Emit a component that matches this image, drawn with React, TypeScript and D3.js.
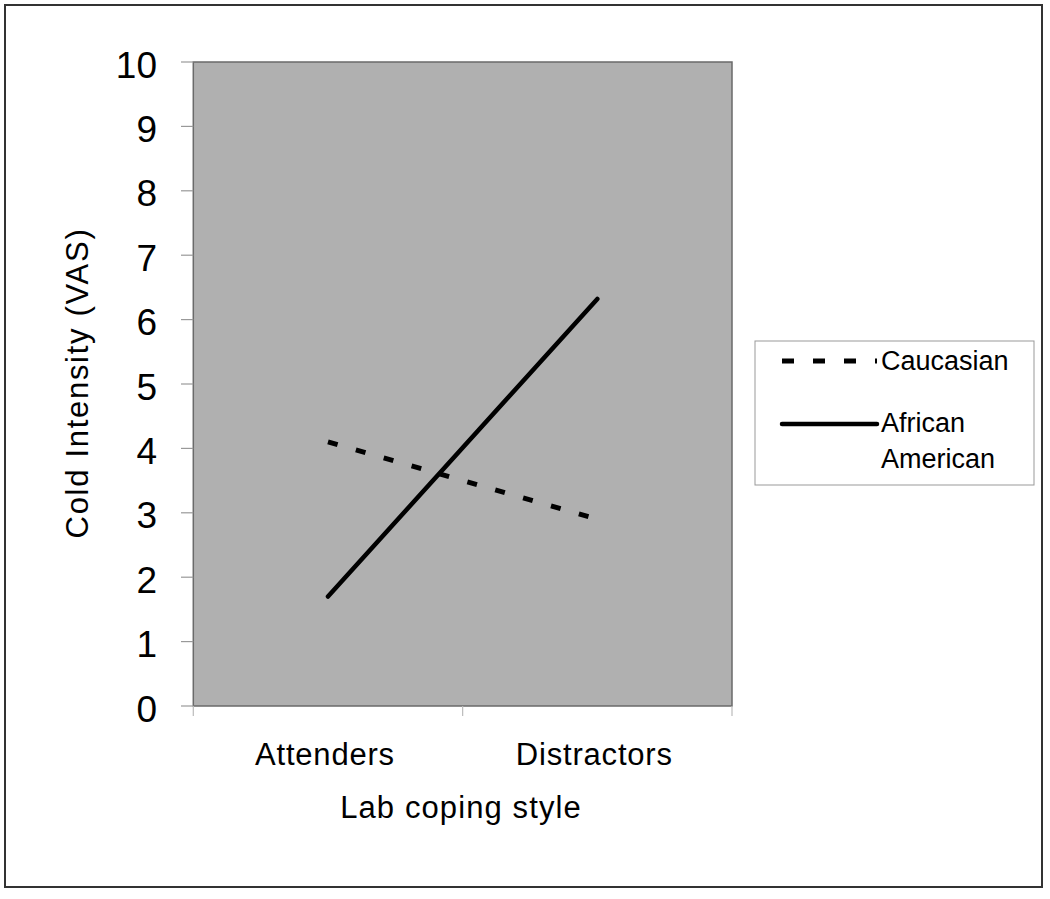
import React from "react";
import * as d3 from "d3";

const categories = ["Attenders", "Distractors"];
const caucasian = [4.1, 2.9];
const africanAmerican = [1.7, 6.32];
const yTicks = [0, 1, 2, 3, 4, 5, 6, 7, 8, 9, 10];
const seriesNames = ["Caucasian", "African American"];

const FONT = "'Liberation Sans', Arial, sans-serif";

export default function App() {
  const W = 1050, H = 899;
  const plot = { left: 193.3, right: 732, top: 62, bottom: 706 };
  const x = d3.scalePoint<string>().domain(categories).range([plot.left, plot.right]).padding(0.5);
  const y = d3.scaleLinear().domain([0, 10]).range([plot.bottom, plot.top]);
  const band = (plot.right - plot.left) / categories.length;
  const xTickPos = d3.range(categories.length + 1).map((i) => plot.left + i * band);

  const line = d3
    .line<number>()
    .x((_, i) => x(categories[i]) as number)
    .y((d) => y(d));

  return (
    <svg
      width={W}
      height={H}
      style={{ position: "absolute", left: 0, top: 0, background: "#fff" }}
      fontFamily={FONT}
    >
      <rect x={5} y={5} width={1037} height={882} fill="#fff" stroke="#333" strokeWidth={2} />
      {/* plot area */}
      <rect
        x={plot.left}
        y={plot.top}
        width={plot.right - plot.left}
        height={plot.bottom - plot.top}
        fill="#b0b0b0"
        stroke="#6a6a6a"
        strokeWidth={1.5}
      />
      {/* y ticks */}
      {yTicks.map((t) => (
        <g key={t}>
          <line x1={181} x2={plot.left} y1={y(t)} y2={y(t)} stroke="#999" strokeWidth={1.2} />
          <text x={157} y={y(t) + 15.5} textAnchor="end" fontSize={37} fill="#000">
            {t}
          </text>
        </g>
      ))}
      {/* x ticks */}
      {xTickPos.map((p, i) => (
        <line key={i} x1={p} x2={p} y1={plot.bottom} y2={plot.bottom + 10} stroke="#bbb" strokeWidth={1.2} />
      ))}
      {categories.map((c) => (
        <text key={c} x={(x(c) as number) - 3} y={765} textAnchor="middle" fontSize={31} letterSpacing={0.8} fill="#000">
          {c}
        </text>
      ))}
      <text x={461} y={818} textAnchor="middle" fontSize={31} letterSpacing={1.1} fill="#000">
        Lab coping style
      </text>
      <text
        transform={`translate(88, 383) rotate(-90)`}
        textAnchor="middle"
        fontSize={31}
        letterSpacing={1.7}
        fill="#000"
      >
        Cold Intensity (VAS)
      </text>
      {/* series */}
      <path d={line(caucasian) || ""} fill="none" stroke="#000" strokeWidth={5} strokeDasharray="10 19" />
      <path d={line(africanAmerican) || ""} fill="none" stroke="#000" strokeWidth={4.5} strokeLinecap="round" />
      {/* legend */}
      <rect x={755} y={341} width={279} height={144} fill="#fff" stroke="#999" strokeWidth={1} />
      <line x1={782} x2={877} y1={361} y2={361} stroke="#000" strokeWidth={5} strokeDasharray="12 19" />
      <text x={881} y={370} fontSize={27} fill="#000">{seriesNames[0]}</text>
      <line x1={782} x2={877} y1={424} y2={424} stroke="#000" strokeWidth={4.5} strokeLinecap="round" />
      <text x={881} y={432} fontSize={27} fill="#000">African</text>
      <text x={881} y={468} fontSize={27} fill="#000">American</text>
    </svg>
  );
}
